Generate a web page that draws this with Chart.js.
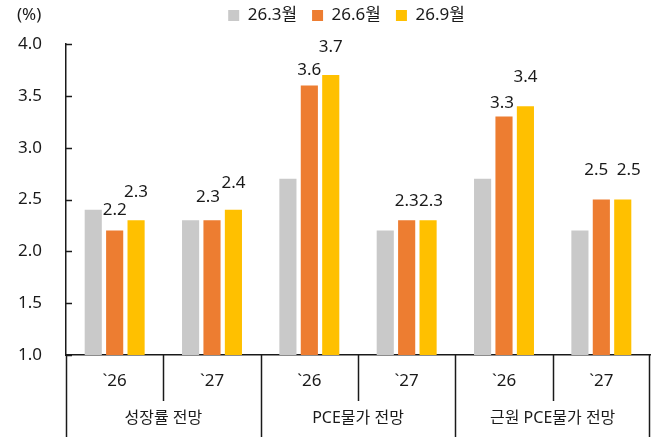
<!DOCTYPE html>
<html lang="ko">
<head>
<meta charset="utf-8">
<title>전망 비교</title>
<script src="https://cdn.jsdelivr.net/npm/chart.js@4.4.1/dist/chart.umd.min.js"></script>
<style>
    html, body { margin: 0; padding: 0; background: #fff; }
    #wrap { width: 658px; height: 443px; }
</style>
</head>
<body>
<div id="wrap"><canvas id="outlook-chart"></canvas></div>
<script>
// Chart data
const years = ['`26', '`27', '`26', '`27', '`26', '`27'];
const groups = ['성장률 전망', 'PCE물가 전망', '근원 PCE물가 전망'];
const seriesNames = ['26.3월', '26.6월', '26.9월'];
const march = [2.4, 2.3, 2.7, 2.2, 2.7, 2.2];
const june = [2.2, 2.3, 3.6, 2.3, 3.3, 2.5];
const september = [2.3, 2.4, 3.7, 2.3, 3.4, 2.5];
const yTicks = [1.0, 1.5, 2.0, 2.5, 3.0, 3.5, 4.0];

// Where each value label sits relative to its bar top (px), as placed in the original
const juneLift = [20, 23, 15, 19, 13, 29];
const septemberLift = [28, 27, 28, 19, 29, 29];
const juneShift = [0, -4, 0, 0, -2, -5];
const septemberShift = [0, 0, 0, 3, 0, 6];

const FONT = '"Noto Sans", "Noto Sans CJK KR", sans-serif';
const INK = '#1a1a1a';

document.addEventListener('DOMContentLoaded', function() {
    const canvas = document.getElementById('outlook-chart');

    /**
     * Draws the value labels, the inward y ticks and the two-level category axis
     */
    const decorations = {
        id: 'decorations',
        beforeInit(chart) {
            // leave a bit more room under the legend
            const legend = chart.legend;
            const fit = legend.fit;
            legend.fit = function() {
                fit.call(legend);
                legend.height += 10;
            };
        },
        afterLayout(chart) {
            // the legend sits a little right of the page centre
            chart.legend.left += 13;
            chart.legend.right += 13;
        },
        afterDatasetsDraw(chart) {
            const ctx = chart.ctx;
            const area = chart.chartArea;
            const x = chart.scales.x;
            const y = chart.scales.y;

            ctx.save();
            ctx.fillStyle = INK;
            ctx.font = '17px ' + FONT;
            ctx.textAlign = 'center';
            ctx.textBaseline = 'middle';

            // value labels for the 26.6 and 26.9 series
            [[1, juneLift, juneShift], [2, septemberLift, septemberShift]].forEach(function(set) {
                const meta = chart.getDatasetMeta(set[0]);
                const values = chart.data.datasets[set[0]].data;
                meta.data.forEach(function(bar, i) {
                    ctx.fillText(values[i].toFixed(1), bar.x + set[2][i], bar.y - set[1][i]);
                });
            });

            // unit label
            ctx.textAlign = 'left';
            ctx.fillText('(%)', 17, 15);

            // inward ticks on the y axis
            ctx.strokeStyle = INK;
            ctx.lineWidth = 1.5;
            yTicks.forEach(function(v) {
                const py = Math.round(y.getPixelForValue(v)) + 0.5;
                ctx.beginPath();
                ctx.moveTo(area.left, py);
                ctx.lineTo(area.left + 6, py);
                ctx.stroke();
            });

            // category separators and labels
            const step = x.getPixelForValue(1) - x.getPixelForValue(0);
            ctx.textAlign = 'center';
            years.forEach(function(label, i) {
                const cx = x.getPixelForValue(i);
                ctx.fillText(label, cx, area.bottom + 26);
                const edge = Math.round(cx - step / 2) + 0.5;
                const long = i % 2 === 0;
                ctx.beginPath();
                ctx.moveTo(edge, area.bottom);
                ctx.lineTo(edge, area.bottom + (long ? 82 : 46));
                ctx.stroke();
            });
            const last = Math.round(x.getPixelForValue(years.length - 1) + step / 2) - 0.5;
            ctx.beginPath();
            ctx.moveTo(last, area.bottom);
            ctx.lineTo(last, area.bottom + 82);
            ctx.stroke();

            ctx.font = '16px ' + FONT;
            groups.forEach(function(label, g) {
                const cx = (x.getPixelForValue(g * 2) + x.getPixelForValue(g * 2 + 1)) / 2;
                ctx.fillText(label, cx, area.bottom + 63);
            });
            ctx.restore();
        }
    };

    const data = {
        labels: years,
        datasets: [
            { label: seriesNames[0], data: march, backgroundColor: '#C9C9C9' },
            { label: seriesNames[1], data: june, backgroundColor: '#ED7D31' },
            { label: seriesNames[2], data: september, backgroundColor: '#FFC000' }
        ]
    };

    const options = {
        responsive: true,
        maintainAspectRatio: false,
        animation: false,
        datasets: {
            bar: {
                categoryPercentage: 0.66,
                barPercentage: 0.8,
                borderWidth: 0
            }
        },
        layout: {
            padding: { top: -8, left: 17, right: 8, bottom: 80 }
        },
        plugins: {
            legend: {
                position: 'top',
                labels: {
                    color: INK,
                    boxWidth: 11,
                    boxHeight: 11,
                    padding: 15,
                    font: { family: FONT, size: 17 }
                }
            },
            tooltip: { enabled: false }
        },
        scales: {
            x: {
                grid: { display: false },
                border: { display: true, color: INK, width: 1.5 },
                ticks: { display: false }
            },
            y: {
                min: 1,
                max: 4,
                afterBuildTicks: function(axis) {
                    axis.ticks = yTicks.map(function(v) { return { value: v }; });
                },
                afterFit: function(axis) {
                    axis.width = 49;
                },
                grid: { display: false, drawTicks: false },
                border: { display: true, color: INK, width: 1.5 },
                ticks: {
                    color: INK,
                    padding: 24,
                    font: { family: FONT, size: 17 },
                    callback: function(v) { return Number(v).toFixed(1); }
                }
            }
        }
    };

    new Chart(canvas, {
        type: 'bar',
        data: data,
        options: options,
        plugins: [decorations]
    });
});
</script>
</body>
</html>
